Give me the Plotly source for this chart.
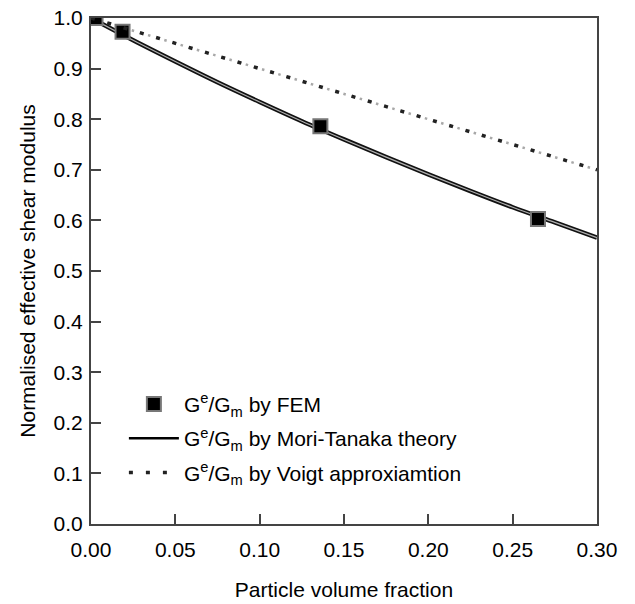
import plotly.graph_objects as go

# FEM results
fem_x = [0.0027, 0.0187, 0.136, 0.265]
fem_y = [1.0, 0.973, 0.786, 0.603]

# Mori-Tanaka curve
mt_x = [0.0, 0.025, 0.05, 0.075, 0.10, 0.125, 0.15, 0.175, 0.20, 0.225, 0.25, 0.275, 0.30]
mt_y = [1.0, 0.956, 0.914, 0.873, 0.834, 0.796, 0.760, 0.725, 0.691, 0.658, 0.626, 0.596, 0.566]

# Voigt approximation
voigt_x = [0.0, 0.30]
voigt_y = [1.0, 0.70]

x_ticks = [0.0, 0.05, 0.10, 0.15, 0.20, 0.25, 0.30]
y_ticks = [0.0, 0.1, 0.2, 0.3, 0.4, 0.5, 0.6, 0.7, 0.8, 0.9, 1.0]

lbl = "G<sup>e</sup>/G<sub>m</sub>"
FONT = "Liberation Sans, Arial, sans-serif"

fig = go.Figure()

# Voigt: gray dots + dark dots
fig.add_trace(go.Scatter(x=voigt_x, y=voigt_y, mode="lines",
                         line=dict(color="#a8a8a8", width=2.5, dash="2.5px,6px"),
                         showlegend=False, hoverinfo="skip"))
# Mori-Tanaka double line
fig.add_trace(go.Scatter(x=mt_x, y=mt_y, mode="lines", line=dict(color="#111", width=4.5, shape="spline"),
                         showlegend=False, hoverinfo="skip"))
fig.add_trace(go.Scatter(x=mt_x, y=mt_y, mode="lines", line=dict(color="#b0b0b0", width=1.2, shape="spline"),
                         showlegend=False, hoverinfo="skip"))

fig.add_trace(go.Scatter(x=fem_x, y=fem_y, mode="markers", name=lbl + " by FEM", legendgroup="a",
                         marker=dict(symbol="square", size=14, color="black",
                                     line=dict(color="#777", width=2))))
fig.add_trace(go.Scatter(x=[None], y=[None], mode="lines", name=lbl + " by Mori-Tanaka theory", legendgroup="b",
                         line=dict(color="black", width=2.5)))
fig.add_trace(go.Scatter(x=voigt_x, y=voigt_y, mode="lines", name=lbl + " by Voigt approxiamtion", legendgroup="c",
                         line=dict(color="#222", width=3.5, dash="4px,13px")))

axis_common = dict(showline=True, linecolor="#444", linewidth=2, mirror=True,
                   ticks="inside", ticklen=10, tickwidth=1.5, tickcolor="#444",
                   showgrid=False, zeroline=False, automargin=False,
                   tickfont=dict(family=FONT, size=21, color="black"))

fig.update_xaxes(range=[0, 0.30], tickvals=x_ticks, tickformat=".2f", ticklabelstandoff=6,
                 title=dict(text="Particle volume fraction", font=dict(family=FONT, size=21, color="black"), standoff=22),
                 **axis_common)
fig.update_yaxes(range=[0, 1.0], tickvals=y_ticks, tickformat=".1f", ticklabelstandoff=2,
                 title=dict(text="Normalised effective shear modulus", font=dict(family=FONT, size=21, color="black"), standoff=12),
                 **axis_common)

fig.update_layout(
    width=635, height=604,
    margin=dict(l=91, r=38, t=18, b=80),
    plot_bgcolor="white", paper_bgcolor="white",
    font=dict(family=FONT, color="black"),
    legend=dict(x=0.065, y=0.277, xanchor="left", yanchor="top",
                font=dict(family=FONT, size=21, color="black"),
                bgcolor="rgba(0,0,0,0)", tracegroupgap=4, traceorder="grouped", itemwidth=50),
)

fig.write_html("out.html")
